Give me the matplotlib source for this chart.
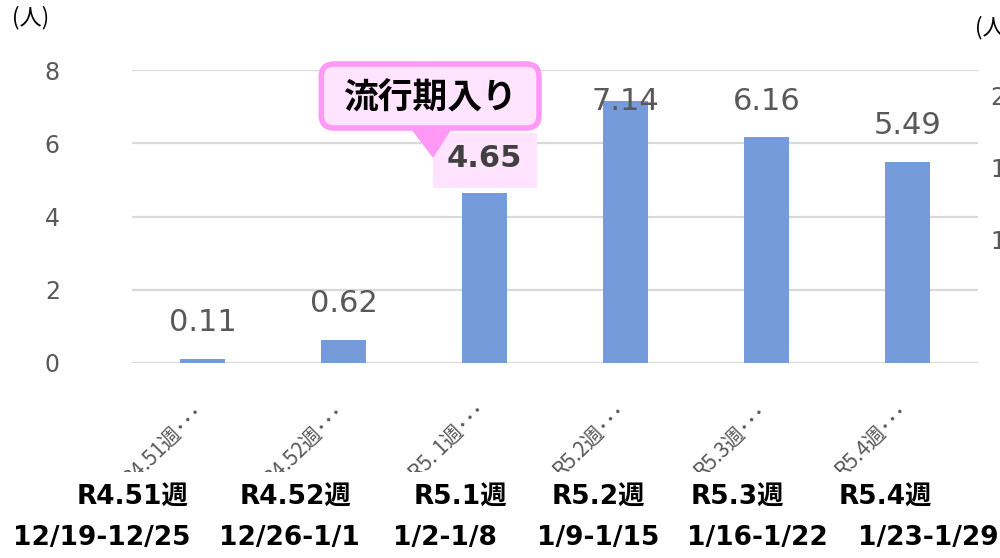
import matplotlib
matplotlib.use("Agg")
import matplotlib.pyplot as plt
from matplotlib.patches import FancyBboxPatch, Polygon, Rectangle
from matplotlib.transforms import Bbox, TransformedBbox, ScaledTranslation

plt.rcParams["font.family"] = ["DejaVu Sans", "Noto Sans CJK JP"]

# data
weeks = ["R4.51週･･･", "R4.52週･･･", "R5. 1週･･･", "R5.2週･･･", "R5.3週･･･", "R5.4週･･･"]
values = [0.11, 0.62, 4.65, 7.14, 6.16, 5.49]
week_names = ["R4.51週", "R4.52週", "R5.1週", "R5.2週", "R5.3週", "R5.4週"]
date_ranges = ["12/19-12/25", "12/26-1/1", "1/2-1/8", "1/9-1/15", "1/16-1/22", "1/23-1/29"]
right_ticks = [10, 15, 20]
right_labels = ["10", "15", "20"]
callout_text = "流行期入り"
callout_idx = 2

# layout (pixel centres of the bold labels under the chart)
name_x = [133, 295, 460, 598, 737, 885]
date_x = [102, 289, 445, 598, 757, 928]

BAR = "#769BDA"
GRAY = "#595959"
GRID = "#D9D9D9"
PINK_EDGE = "#FF99F5"
PINK_FILL = "#FFE3FF"
JP = ["Noto Sans CJK JP", "DejaVu Sans"]

W, H = 1000, 558
fig = plt.figure(figsize=(10, 5.58), dpi=100)
ax = fig.add_axes([132 / W, 1 - 363 / H, (978 - 132) / W, (363 - 70) / H])

x = list(range(len(values)))
ax.bar(x, values, width=0.32, color=BAR, zorder=2)
ax.set_xlim(-0.5, 5.5)
ax.set_ylim(0, 8)
ax.set_yticks([0, 2, 4, 6, 8])
ax.yaxis.grid(True, color=GRID, lw=1.6, zorder=0)
for s in ax.spines.values():
    s.set_visible(False)
ax.tick_params(axis="y", length=0, pad=52, labelsize=17, labelcolor=GRAY)
ax.tick_params(axis="x", length=0, pad=26, labelsize=15, labelcolor=GRAY)
ax.set_xticks(x)
ax.set_xticklabels(weeks, rotation=45, ha="right", va="top", rotation_mode="anchor",
                   family=JP)
clip = TransformedBbox(Bbox([[0, 1 - 472 / H], [1, 1]]), fig.transFigure)
shift = ScaledTranslation(-10 / 100, 0, fig.dpi_scale_trans)
for t in ax.get_xticklabels():
    t.set_transform(t.get_transform() + shift)
    t.set_clip_box(clip)
    t.set_clip_on(True)

# value labels (top one pushed down inside the plot area like Excel does)
px = 293 / 8  # pixels per unit
for i, v in enumerate(values):
    if i == callout_idx:
        continue
    y = min(v + 28 / px, (363 - 110) / px)
    ax.text(i, y, f"{v:.2f}", ha="center", va="baseline", fontsize=22, color=GRAY,
            zorder=3)

# callout for 流行期入り
def dx(p):
    return (p - 202) / 141.2

def dy(p):
    return (363 - p) / px

v = values[callout_idx]
ax.add_patch(Rectangle((dx(433), dy(188)), dx(537) - dx(433), dy(133) - dy(188),
                       facecolor=PINK_FILL, edgecolor="none", zorder=3, clip_on=False))
ax.text(callout_idx, dy(167), f"{v:.2f}", ha="center", va="baseline", fontsize=22,
        fontweight="bold", color="#404040", zorder=4)
ax.add_patch(Polygon([[dx(410), dy(128)], [dx(452), dy(128)], [dx(433), dy(158)]],
                     closed=True, facecolor=PINK_EDGE, edgecolor="none", zorder=5, clip_on=False))
ax.add_patch(FancyBboxPatch((dx(321), dy(128)), dx(539) - dx(321), dy(64) - dy(128),
                            boxstyle="round,pad=0,rounding_size=0.09",
                            mutation_aspect=(141.2 / px),
                            facecolor=PINK_FILL, edgecolor=PINK_EDGE, lw=4,
                            zorder=6, clip_on=False))
ax.text(dx(430), dy(98), callout_text, ha="center", va="center", fontsize=25,
        fontweight="bold", color="black", zorder=7, clip_on=False, family=JP)

# right axis (cut off by the figure edge)
ax2 = ax.twinx()
ax2.set_ylim(1.4, 21.8)
ax2.set_yticks(right_ticks)
ax2.set_yticklabels(right_labels)
for s in ax2.spines.values():
    s.set_visible(False)
ax2.tick_params(axis="y", length=0, pad=9, labelsize=17, labelcolor=GRAY)

fig.text(12 / W, 1 - 18 / H, "(人)", fontsize=16, color="black", va="center", ha="left",
         family=JP)
fig.text(975 / W, 1 - 28 / H, "(人)", fontsize=16, color="black", va="center", ha="left",
         family=JP)

for xp, name in zip(name_x, week_names):
    fig.text(xp / W, 1 - 497 / H, name, ha="center", va="center", fontsize=19,
             fontweight="bold", color="black")
for xp, d in zip(date_x, date_ranges):
    fig.text(xp / W, 1 - 538 / H, d, ha="center", va="center", fontsize=19,
             fontweight="bold", color="black")

fig.savefig("out.png", dpi=100)
